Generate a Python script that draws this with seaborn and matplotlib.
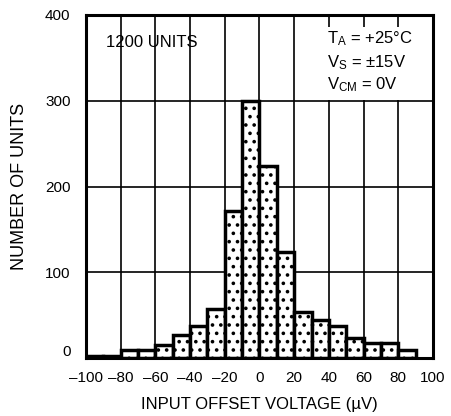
import numpy as np
import matplotlib
matplotlib.use('Agg')
import matplotlib.pyplot as plt
import matplotlib.transforms as mtransforms
from matplotlib.patches import Rectangle
import seaborn as sns

# histogram data: 10 uV bins from -100 to 90
bin_edges = [-100, -90, -80, -70, -60, -50, -40, -30, -20, -10, 0,
             10, 20, 30, 40, 50, 60, 70, 80, 90]
counts = [3, 3, 10, 10, 15, 27, 38, 57, 172, 300, 224, 124,
          54, 44, 37, 23, 18, 18, 9]
xticks = [-100, -80, -60, -40, -20, 0, 20, 40, 60, 80, 100]
yticks = [0, 100, 200, 300, 400]

centers = [(a + b) / 2 for a, b in zip(bin_edges[:-1], bin_edges[1:])]

sns.set_style('white')
plt.rcParams['font.family'] = ['Liberation Sans', 'DejaVu Sans']
plt.rcParams['mathtext.default'] = 'regular'
plt.rcParams['hatch.linewidth'] = 1.4
for k in ['text.color', 'axes.labelcolor', 'xtick.color', 'ytick.color']:
    plt.rcParams[k] = 'black'

fig = plt.figure(figsize=(4.52, 4.16), dpi=100)
ax = fig.add_axes([0.190, 0.139, 0.768, 0.825])

sns.histplot(x=centers, weights=counts, bins=bin_edges, ax=ax,
             color='white', edgecolor='black', linewidth=2.5, alpha=1)
for p in ax.patches:
    p.set_hatch('..')
    p.set_zorder(3)

ax.set_xlim(-100, 100)
ax.set_ylim(0, 400)
ax.set_xticks(xticks)
ax.set_xticklabels([str(t).replace('-', '\u2013') for t in xticks], fontsize=11)
ax.set_yticks(yticks)
ax.set_yticklabels([str(t) for t in yticks], fontsize=11)
ax.tick_params(axis='x', length=0, pad=9)
ax.tick_params(axis='y', length=0, pad=11)
# the "0" label sits a bit higher in the original
lbl0 = ax.get_yticklabels()[0]
lbl0.set_transform(lbl0.get_transform() +
                   mtransforms.ScaledTranslation(0, 8 / 100, fig.dpi_scale_trans))

ax.grid(True, color='black', linewidth=1.2)
ax.set_axisbelow(True)
for s in ax.spines.values():
    s.set_linewidth(2.2)
    s.set_color('black')
    s.set_zorder(4)

ax.set_xlabel('INPUT OFFSET VOLTAGE (\u00b5V)', fontsize=12, labelpad=9)
ax.set_ylabel('NUMBER OF UNITS', fontsize=13, labelpad=12)

# white panel behind the conditions block
ax.add_patch(Rectangle((25, 300.5), 72, 86, facecolor='white',
                       edgecolor='none', zorder=2.5))

ax.text(-88.5, 368, '1200 UNITS', fontsize=12, va='center', ha='left', zorder=5)
ax.text(39, 372, 'T$_{A}$ = +25\u00b0C', fontsize=12, va='center', ha='left', zorder=5)
ax.text(39, 345, 'V$_{S}$ = \u00b115V', fontsize=12, va='center', ha='left', zorder=5)
ax.text(39, 319, 'V$_{CM}$ = 0V', fontsize=12, va='center', ha='left', zorder=5)

fig.savefig('out.png', dpi=100, facecolor='white')
